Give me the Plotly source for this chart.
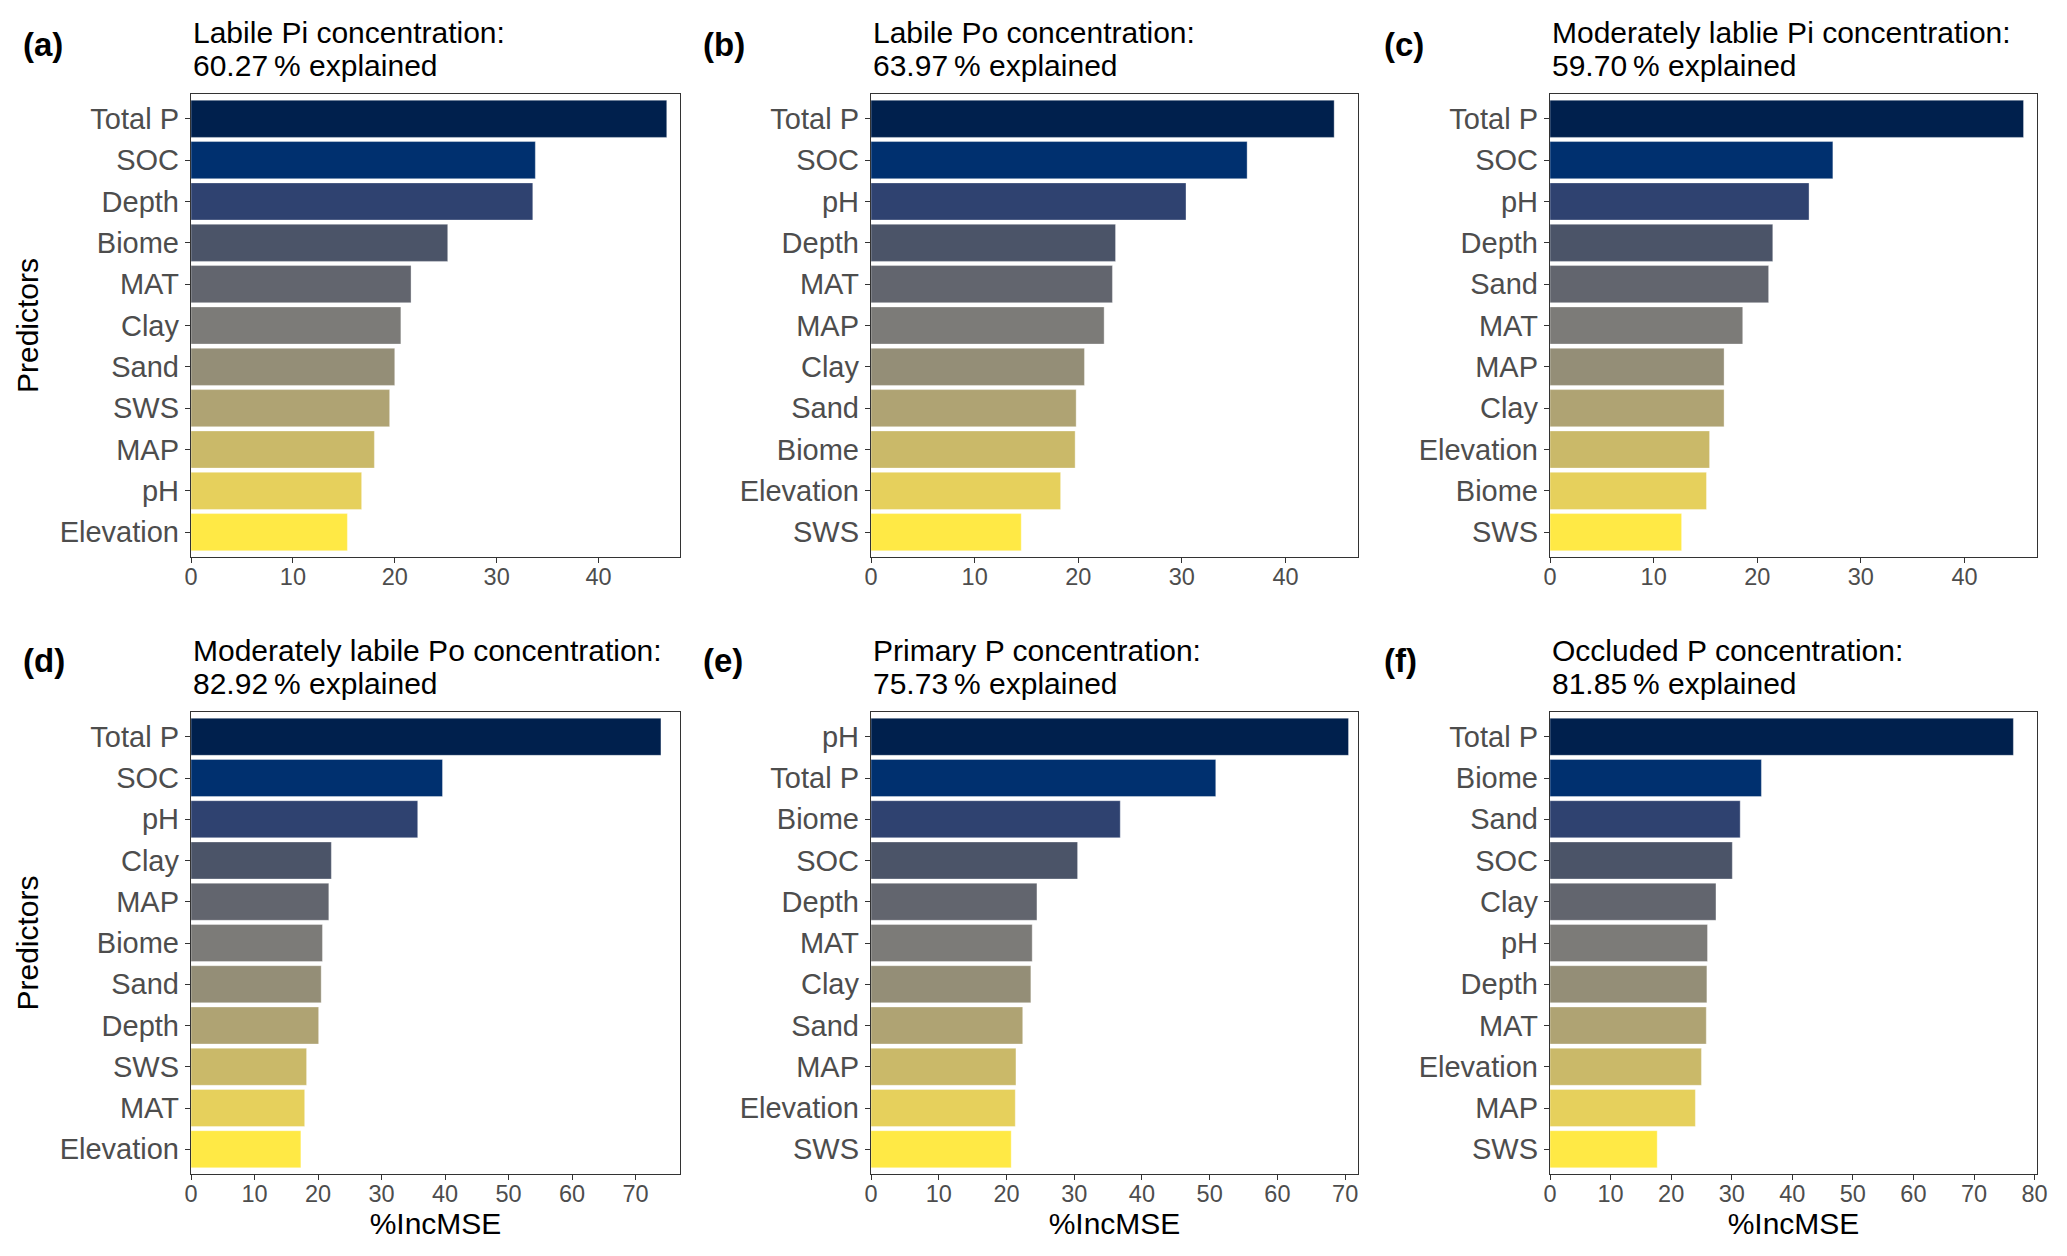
import plotly.graph_objects as go

# browser window and the 8px default body margin of the page
WIN_W, WIN_H = 2067, 1256
OFF = 8
W, H = WIN_W - OFF, WIN_H - 2 * OFF

# ---------------- data ----------------
panel_letters = ["(a)", "(b)", "(c)", "(d)", "(e)", "(f)"]
title_line1 = [
    "Labile Pi concentration:",
    "Labile Po concentration:",
    "Moderately lablie Pi concentration:",
    "Moderately labile Po concentration:",
    "Primary P concentration:",
    "Occluded P concentration:",
]
title_line2 = [
    "60.27\u2009% explained",
    "63.97\u2009% explained",
    "59.70\u2009% explained",
    "82.92\u2009% explained",
    "75.73\u2009% explained",
    "81.85\u2009% explained",
]

# predictors listed from top (most important) to bottom
pred_a = ["Total P", "SOC", "Depth", "Biome", "MAT", "Clay", "Sand", "SWS", "MAP", "pH", "Elevation"]
val_a = [46.7, 33.8, 33.55, 25.2, 21.6, 20.6, 20.0, 19.5, 18.0, 16.75, 15.35]

pred_b = ["Total P", "SOC", "pH", "Depth", "MAT", "MAP", "Clay", "Sand", "Biome", "Elevation", "SWS"]
val_b = [44.7, 36.3, 30.4, 23.6, 23.3, 22.5, 20.6, 19.8, 19.7, 18.3, 14.5]

pred_c = ["Total P", "SOC", "pH", "Depth", "Sand", "MAT", "MAP", "Clay", "Elevation", "Biome", "SWS"]
val_c = [45.7, 27.3, 25.0, 21.5, 21.1, 18.6, 16.8, 16.8, 15.4, 15.1, 12.7]

pred_d = ["Total P", "SOC", "pH", "Clay", "MAP", "Biome", "Sand", "Depth", "SWS", "MAT", "Elevation"]
val_d = [74.0, 39.6, 35.7, 22.1, 21.7, 20.7, 20.5, 20.1, 18.2, 17.9, 17.3]

pred_e = ["pH", "Total P", "Biome", "SOC", "Depth", "MAT", "Clay", "Sand", "MAP", "Elevation", "SWS"]
val_e = [70.5, 50.9, 36.8, 30.5, 24.5, 23.8, 23.6, 22.4, 21.4, 21.3, 20.7]

pred_f = ["Total P", "Biome", "Sand", "SOC", "Clay", "pH", "Depth", "MAT", "Elevation", "MAP", "SWS"]
val_f = [76.5, 34.9, 31.4, 30.1, 27.4, 26.0, 25.9, 25.8, 25.0, 24.0, 17.7]

x_axis_max = [48.0, 47.0, 47.0, 77.0, 71.9, 80.4]

predictors = [pred_a, pred_b, pred_c, pred_d, pred_e, pred_f]
values = [val_a, val_b, val_c, val_d, val_e, val_f]

# cividis-like ramp, from top bar to bottom bar
bar_colors = ["#00204D", "#00306F", "#2F4270", "#4B5468", "#62656E", "#7C7B78",
              "#948E77", "#AFA373", "#CAB969", "#E6D05C", "#FFE945"]

# ---------------- layout geometry (screen pixels) ----------------
col_x = [(191, 680), (871, 1358), (1550, 2037)]
row_y = [(94, 557), (712, 1174)]
title_y = [(33, 66), (650, 683)]
letter_x = [21, 701, 1382]
letter_y = [44, 660]


def fx(px):
    return (px - OFF) / W


def fy(py):
    return 1 - (py - OFF) / H


FONT = "Liberation Sans, Arial, sans-serif"
TICK_GREY = "#4D4D4D"
LINE = "#333333"

fig = go.Figure()
annotations = []

for i in range(6):
    r, c = divmod(i, 3)
    ax = "" if i == 0 else str(i + 1)
    x0, x1 = col_x[c]
    y0, y1 = row_y[r]
    preds = predictors[i]
    vals = values[i]
    fig.add_trace(go.Bar(
        x=vals, y=preds, orientation="h",
        marker=dict(color=bar_colors, line=dict(width=0.6, color="rgba(255,255,255,0.6)")),
        width=0.9,
        xaxis="x" + ax, yaxis="y" + ax,
        showlegend=False,
        hovertemplate="%{y}: %{x}<extra></extra>",
    ))
    xa = dict(
        domain=[fx(x0), fx(x1)], anchor="y" + ax,
        range=[0, x_axis_max[i]], dtick=10, tick0=0,
        showgrid=False, zeroline=False,
        showline=True, mirror=True, linecolor=LINE, linewidth=1.4,
        ticks="outside", ticklen=5, tickwidth=1.4, tickcolor=LINE,
        ticklabelstandoff=-6, ticklabeloverflow="allow",
        tickfont=dict(family=FONT, size=23.5, color=TICK_GREY),
        automargin=False,
    )
    if r == 1:
        xa["title"] = dict(text="%IncMSE", font=dict(family=FONT, size=30, color="#000000"),
                           standoff=4)
    ya = dict(
        domain=[fy(y1), fy(y0)], anchor="x" + ax,
        type="category", categoryorder="array", categoryarray=preds[::-1],
        range=[-0.6, len(preds) - 0.4],
        showgrid=False, zeroline=False,
        showline=True, mirror=True, linecolor=LINE, linewidth=1.4,
        ticks="outside", ticklen=5, tickwidth=1.4, tickcolor=LINE,
        tickfont=dict(family=FONT, size=29, color=TICK_GREY),
        automargin=False,
    )
    if c == 0:
        ya["title"] = dict(text="Predictors", font=dict(family=FONT, size=30, color="#000000"),
                           standoff=12)
    fig.update_layout(**{"xaxis" + ax: xa, "yaxis" + ax: ya})

    annotations.append(dict(
        text=title_line1[i], x=fx(x0), y=fy(title_y[r][0]),
        xref="paper", yref="paper", xanchor="left", yanchor="middle",
        showarrow=False, font=dict(family=FONT, size=30, color="#000000"),
    ))
    annotations.append(dict(
        text=title_line2[i], x=fx(x0), y=fy(title_y[r][1]),
        xref="paper", yref="paper", xanchor="left", yanchor="middle",
        showarrow=False, font=dict(family=FONT, size=30, color="#000000"),
    ))
    annotations.append(dict(
        text="<b>" + panel_letters[i] + "</b>", x=fx(letter_x[c]), y=fy(letter_y[r]),
        xref="paper", yref="paper", xanchor="left", yanchor="middle",
        showarrow=False, font=dict(family=FONT, size=33, color="#000000"),
    ))

fig.update_layout(
    width=W, height=H,
    margin=dict(l=0, r=0, t=0, b=0),
    paper_bgcolor="white", plot_bgcolor="white",
    annotations=annotations,
    font=dict(family=FONT),
)

fig.write_html("out.html")
